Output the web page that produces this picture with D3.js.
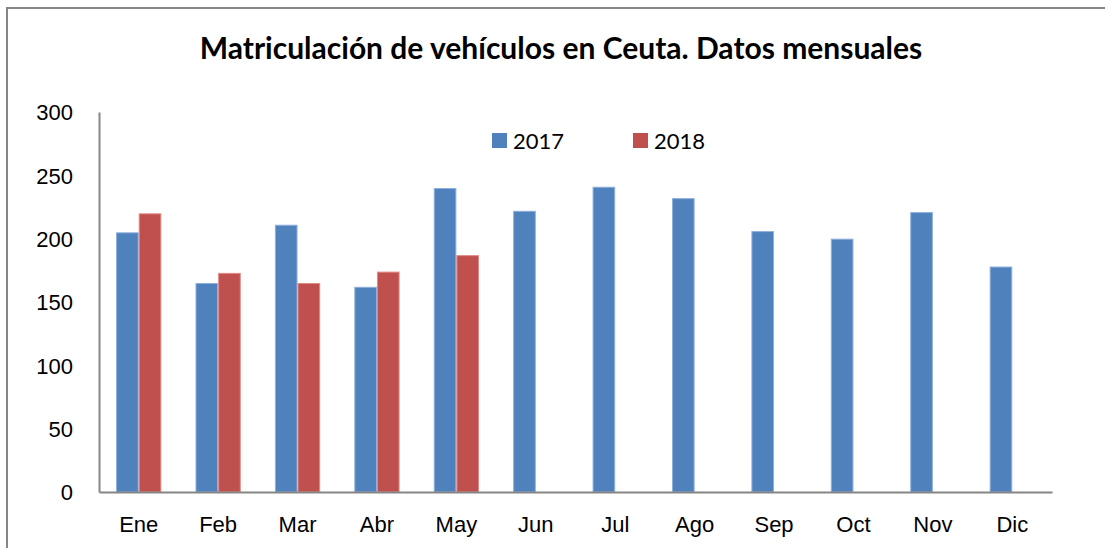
<!DOCTYPE html>
<html>
<head>
<meta charset="utf-8">
<script src="https://cdn.jsdelivr.net/npm/d3@7"></script>
<style>
  body { margin: 0; background: #fff; }
  svg { display: block; font-family: Lato, "Open Sans", sans-serif; }
  .axis path { stroke: #868686; stroke-width: 2; }
  .axis text { font-size: 22px; fill: #000; }
</style>
</head>
<body>
<svg width="1105" height="548"></svg>
<script>
var months = ["Ene","Feb","Mar","Abr","May","Jun","Jul","Ago","Sep","Oct","Nov","Dic"];
var seriesNames = ["2017","2018"];
var values2017 = [205,165,211,162,240,222,241,232,206,200,221,178];
var values2018 = [220,173,165,174,187,null,null,null,null,null,null,null];
var yTicks = [0,50,100,150,200,250,300];

(function(){
    var svg = d3.select("svg"),
        margin = {top: 112, right: 53, bottom: 56, left: 99},
        width = +svg.attr("width") - margin.left - margin.right,
        height = +svg.attr("height") - margin.top - margin.bottom;

    var colors = {"2017": "#4f81bd", "2018": "#c0504d"};
    var strokes = {"2017": "#8eb0dc", "2018": "#e08a88"};

    // outer chart border (only top and left visible in the crop)
    svg.append("rect")
        .attr("x", 7).attr("y", 8)
        .attr("width", 1200).attr("height", 700)
        .attr("fill", "none")
        .attr("stroke", "#868686")
        .attr("stroke-width", 2);

    svg.append("text")
        .attr("x", 561).attr("y", 59)
        .attr("text-anchor", "middle")
        .style("font-size", "30px")
        .style("font-weight", "bold")
        .text("Matriculación de vehículos en Ceuta. Datos mensuales");

    var g = svg.append("g").attr("transform", "translate(" + margin.left + "," + margin.top + ")");

    var x0 = d3.scaleBand().domain(months).range([0, width]).paddingInner(0.43).paddingOuter(0.215);
    var x1 = d3.scaleBand().domain(seriesNames).range([0, x0.bandwidth()]);
    var y = d3.scaleLinear().domain([0, 300]).range([height, 0]);

    var rows = months.map(function(m, i){
        return {month: m, vals: [
            {key: "2017", value: values2017[i]},
            {key: "2018", value: values2018[i]}
        ]};
    });

    var groups = g.selectAll(".grp").data(rows).enter().append("g")
        .attr("class", "grp")
        .attr("transform", function(d){ return "translate(" + x0(d.month) + ",0)"; });

    groups.selectAll("rect")
        .data(function(d){ return d.vals.filter(function(v){ return v.value != null; }); })
        .enter().append("rect")
        .attr("x", function(d){ return x1(d.key) + 0.5; })
        .attr("y", function(d){ return y(d.value) + 0.5; })
        .attr("width", x1.bandwidth() - 1)
        .attr("height", function(d){ return height - y(d.value) - 0.5; })
        .attr("fill", function(d){ return colors[d.key]; })
        .attr("stroke", function(d){ return strokes[d.key]; })
        .attr("stroke-width", 1);

    g.append("g")
        .attr("class", "axis")
        .call(d3.axisLeft(y).tickValues(yTicks).tickSize(0).tickPadding(26))
        .call(function(a){ a.selectAll("text").attr("dy", "0.35em"); });

    g.append("g")
        .attr("class", "axis")
        .attr("transform", "translate(0," + height + ")")
        .call(d3.axisBottom(x0).tickSize(0).tickPadding(24));

    // legend
    var legend = svg.append("g").selectAll("g").data(seriesNames).enter().append("g")
        .attr("transform", function(d, i){ return "translate(" + (492 + i * 141) + ",133)"; });
    legend.append("rect")
        .attr("width", 15).attr("height", 15)
        .attr("fill", function(d){ return colors[d]; });
    legend.append("text")
        .attr("x", 21).attr("y", 8)
        .attr("dy", "0.35em")
        .style("font-size", "22px")
        .text(function(d){ return d; });
}());
</script>
</body>
</html>
